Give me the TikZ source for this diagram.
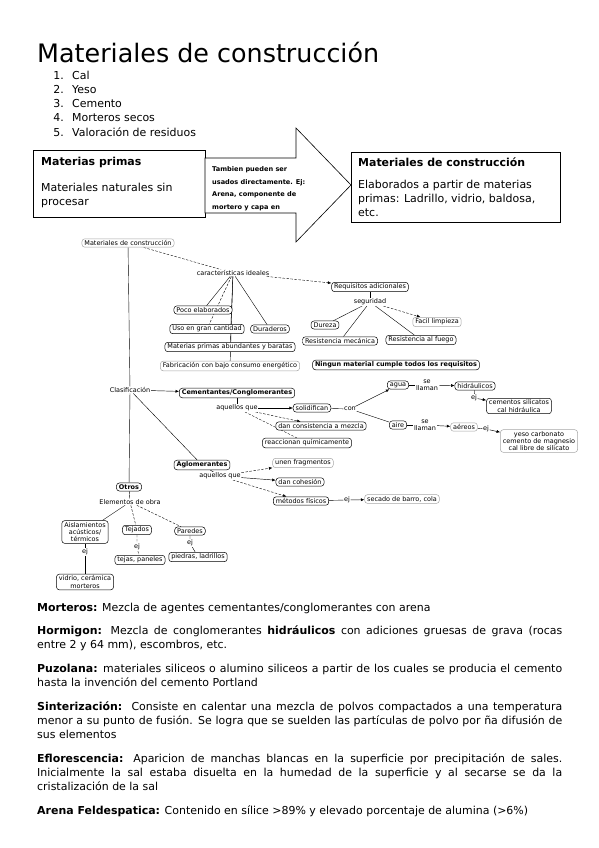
\documentclass[tikz,border=0pt]{standalone}
\usepackage{fontspec}
\setmainfont{DejaVu Sans}
\usepackage{tikz}
\usetikzlibrary{arrows.meta}
\usetikzlibrary{backgrounds, positioning}
\tikzstyle{box} = [draw, line width=0.6pt]
\tikzstyle{heading} = [font=\fontsize{11}{14}\selectfont\bfseries, inner sep=0, anchor=base west]
\tikzstyle{plain} = [inner sep=0, anchor=base west, align=left]
\tikzstyle{concept} = [draw, rounded corners=3bp, fill=white,
	inner xsep=2.5bp, inner ysep=1.6bp, line width=0.5pt,
	align=center, font=\fontsize{6.5}{7.3}\selectfont]
\tikzstyle{faint} = [concept, draw=black!35]
\tikzstyle{keyword} = [concept, font=\fontsize{6.5}{7.3}\selectfont\bfseries]
\tikzstyle{linkword} = [fill=white, inner sep=0.6bp, align=center,
	font=\fontsize{6.5}{7.3}\selectfont]
\tikzstyle{link} = [line width=0.4pt]
\tikzstyle{dlink} = [link, dash pattern=on 2.5bp off 1.5bp]
\tikzstyle{arrow} = [-{Latex[length=3.5bp, width=3bp]}, line width=0.45pt]
\newcommand{\notebold}[1]{\textbf{#1}}

\begin{document}
\begin{tikzpicture}[x=1bp, y=-1bp, font=\fontsize{11}{14}\selectfont]
	\useasboundingbox (0,0) rectangle (599,848);
	\node (title) [plain, font=\fontsize{25.5}{30}\selectfont] at (37,62) {Materiales de construcción};
	\foreach \entry [count=\i] in {Cal, Yeso, Cemento, Morteros secos, Valoración de residuos} {
		\node (num\i) [inner sep=0, anchor=base east] at (64,64.75+14.25*\i) {\i.};
		\node (entry\i) [plain] at (72,64.75+14.25*\i) {\entry};
	}
	
	\node (mpbox) [box, minimum width=172bp, minimum height=67bp, anchor=north west] at (33,150) {};
	\node (mptitle) [heading] at (41,165) {Materias primas};
	\node (mptext) [plain] at (41,205) {Materiales naturales sin\\procesar};
	
	\draw [box, fill=white] (205,158) -- (296,158) -- (296,128) -- (351,185)
		-- (296,242) -- (296,213) -- (205,213) -- cycle;
	\node (arrowtext) [plain, font=\fontsize{6.6}{12.5}\selectfont\bfseries] at (212,209)
		{Tambien pueden ser\\usados directamente. Ej:\\Arena, componente de\\mortero y capa en};
	
	\node (mcbox) [box, minimum width=209bp, minimum height=70bp, anchor=north west] at (351,152) {};
	\node (mctitle) [heading] at (358,166) {Materiales de construcción};
	\node (mctext) [plain] at (358,216) {Elaborados a partir de materias\\primas: Ladrillo, vidrio, baldosa,\\etc.};
	
	\node (mc) [faint] at (128,243) {Materiales de construcción};
	\node (ci) [linkword] at (233,273) {características ideales};
	\node (ra) [concept] at (370,287) {Requisitos adicionales};
	\node (pe) [concept] at (203,310) {Poco elaborados};
	\node (ug) [concept] at (207,329) {Uso en gran cantidad};
	\node (du) [concept] at (270,329) {Duraderos};
	\node (mpa) [concept] at (230,347) {Materias primas abundantes y baratas};
	\node (fab) [faint] at (230,366) {Fabricación con bajo consumo energético};
	\node (seg) [linkword] at (370,302) {seguridad};
	\node (dz) [concept] at (325,325) {Dureza};
	\node (rm) [concept] at (340,341) {Resistencia mecánica};
	\node (rf) [concept] at (421,340) {Resistencia al fuego};
	\node (fl) [faint] at (437,322) {Facil limpieza};
	\node (nm) [keyword] at (396,365) {Ningun material cumple todos los requisitos};
	
	\node (cla) [linkword] at (130,390) {Clasificación};
	\node (cem) [keyword] at (237,393) {Cementantes/Conglomerantes};
	\node (aq1) [linkword] at (237,408) {aquellos que};
	\node (sol) [concept] at (312,408) {solidifican};
	\node (dcm) [concept] at (321,426) {dan consistencia a mezcla};
	\node (rq) [concept] at (307,443) {reaccionan químicamente};
	\node (con) [linkword] at (350,409) {con};
	\node (agua) [concept] at (398,385) {agua};
	\node (aire) [concept] at (398,425) {aire};
	\node (sl1) [linkword] at (427,385) {se\\llaman};
	\node (sl2) [linkword] at (425,425) {se\\llaman};
	\node (hid) [concept] at (475,386) {hidráulicos};
	\node (ej1) [linkword] at (474,398) {ej};
	\node (csc) [concept] at (519,406) {cementos silicatos\\cal hidráulica};
	\node (aer) [faint] at (464,427) {aéreos};
	\node (ej2) [linkword] at (486,429) {ej};
	\node (ycc) [faint] at (539,441) {yeso carbonato\\cemento de magnesio\\cal libre de silicato};
	
	\node (agl) [keyword] at (202,465) {Aglomerantes};
	\node (aq2) [linkword] at (220,476) {aquellos que};
	\node (uf) [faint] at (303,463) {unen fragmentos};
	\node (dco) [concept] at (300,482) {dan cohesión};
	\node (mf) [concept] at (301,501) {métodos físicos};
	\node (ej3) [linkword] at (347,500) {ej};
	\node (sbc) [faint] at (402,499) {secado de barro, cola};
	
	\node (otr) [keyword] at (129,487) {Otros};
	\node (eo) [linkword] at (130,502) {Elementos de obra};
	\node (ais) [concept] at (85,532) {Aislamientos\\acústicos/\\térmicos};
	\node (tej) [concept] at (137,530) {Tejados};
	\node (par) [concept] at (190,531) {Paredes};
	\node (ej4) [linkword] at (85,552) {ej};
	\node (ej5) [linkword] at (137,547) {ej};
	\node (ej6) [linkword] at (190,543) {ej};
	\node (vcm) [concept] at (85,582) {vidrio, cerámica\\morteros};
	\node (tp) [concept] at (140,560) {tejas, paneles};
	\node (pl) [concept] at (198,557) {piedras, ladrillos};
	
	\begin{scope}[on background layer]
		\draw [link] (mc) -- (cla) -- (otr);
		\draw [dlink] (mc) -- (ci);
		\draw [arrow, dlink] (ci) -- (ra);
		\foreach \target in {pe, mpa, du, fab}
			\draw [link] (ci) -- (\target);
		\draw [dlink] (ci) -- (ug);
		\draw [link] (ra) -- (seg);
		\foreach \target in {dz, rm, rf}
			\draw [link] (seg) -- (\target);
		\draw [arrow, dlink] (seg) -- (fl);
		
		\draw [arrow] (cla) -- (cem);
		\draw [link] (cla) -- (agl);
		\draw [link] (cem) -- (aq1);
		\draw [arrow] (aq1) -- (sol);
		\draw [arrow, dlink] (aq1) -- (dcm);
		\draw [dlink] (aq1) -- (rq);
		\draw [link] (sol) -- (con);
		\draw [arrow] (con) -- (agua);
		\draw [link] (con) -- (aire);
		\draw [link] (agua) -- (sl1);
		\draw [arrow] (sl1) -- (hid);
		\draw [link] (hid) -- (ej1);
		\draw [arrow] (ej1) -- (csc);
		\draw [link] (aire) -- (sl2);
		\draw [arrow] (sl2) -- (aer);
		\draw [link] (aer) -- (ej2);
		\draw [arrow] (ej2) -- (ycc);
		
		\draw [link] (agl) -- (aq2);
		\draw [arrow, dlink] (aq2) -- (uf);
		\draw [arrow] (aq2) -- (dco);
		\draw [arrow, dlink] (aq2) -- (mf);
		\draw [link] (mf) -- (ej3);
		\draw [arrow] (ej3) -- (sbc);
		
		\draw [link] (otr) -- (eo);
		\draw [link] (eo) -- (ais);
		\draw [dlink] (eo) -- (tej);
		\draw [dlink] (eo) -- (par);
		\draw [link] (ais) -- (ej4) -- (vcm);
		\draw [dlink] (tej) -- (ej5) -- (tp);
		\draw [link] (par) -- (ej6) -- (pl);
	\end{scope}
	
	\node (notes) [inner sep=0, anchor=base west, text width=525bp, align=justify] at (37,611) {%
		\hyphenpenalty=10000\exhyphenpenalty=10000\setlength{\parskip}{10bp}%
		\notebold{Morteros:} Mezcla de agentes cementantes/conglomerantes con arena\par
		\notebold{Hormigon:} Mezcla de conglomerantes \notebold{hidráulicos} con adiciones gruesas de grava (rocas\linebreak entre 2 y 64 mm), escombros, etc.\par
		\notebold{Puzolana:} materiales siliceos o alumino siliceos a partir de los cuales se producia el cemento\linebreak hasta la invención del cemento Portland\par
		\notebold{Sinterización:}\ \ Consiste en calentar una mezcla de polvos compactados a una temperatura\linebreak menor a su punto de fusión. Se logra que se suelden las partículas de polvo por ña difusión de\linebreak sus elementos\par
		\notebold{Eflorescencia:} Aparicion de manchas blancas en la superficie por precipitación de sales.\linebreak Inicialmente la sal estaba disuelta en la humedad de la superficie y al secarse se da la\linebreak cristalización de la sal\par
		\notebold{Arena Feldespatica:} Contenido en sílice >89\% y elevado porcentaje de alumina (>6\%)};
\end{tikzpicture}
\end{document}
